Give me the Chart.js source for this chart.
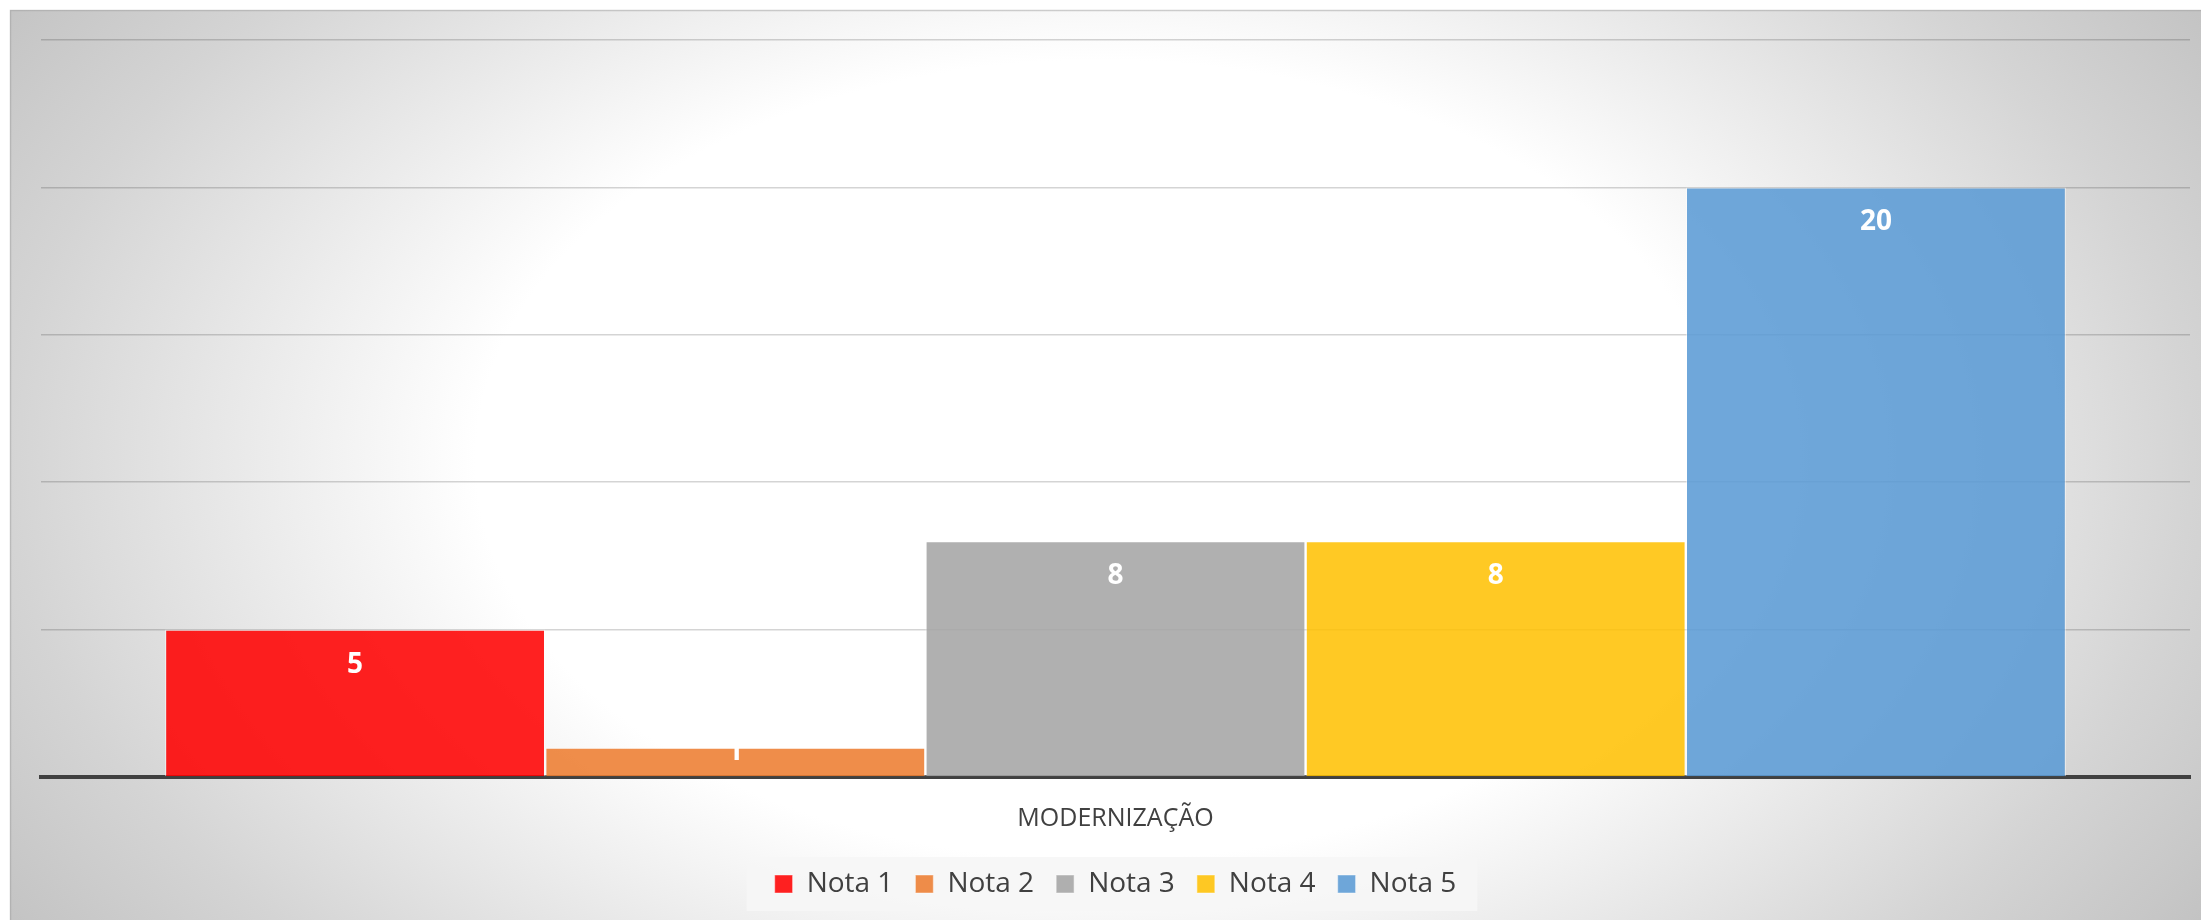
<!DOCTYPE html>
<html>
<head>
<meta charset="utf-8">
<script src="https://cdn.jsdelivr.net/npm/chart.js@4/dist/chart.umd.min.js"></script>
<style>
  html, body { margin: 0; padding: 0; background: #ffffff; }
  #wrap { position: relative; width: 2201px; height: 920px; }
</style>
</head>
<body>
<div id="wrap"><canvas id="c" width="2201" height="920"></canvas></div>
<script>
// ---- data ----
const categories = ['MODERNIZAÇÃO'];
const seriesNames = ['Nota 1', 'Nota 2', 'Nota 3', 'Nota 4', 'Nota 5'];
const nota1 = [5];
const nota2 = [1];
const nota3 = [8];
const nota4 = [8];
const nota5 = [20];
const yTicks = [0, 5, 10, 15, 20, 25];

const seriesValues = [nota1, nota2, nota3, nota4, nota5];
const seriesColors = [
  'rgba(255,0,0,0.87)',
  'rgba(237,125,49,0.88)',
  'rgba(165,165,165,0.88)',
  'rgba(255,192,0,0.86)',
  'rgba(91,155,213,0.88)'
];

const FONT = '"Open Sans", "DejaVu Sans", sans-serif';

const bgPlugin = {
  id: 'bg',
  beforeDraw(chart) {
    const ctx = chart.ctx;
    const W = chart.width, H = chart.height;
    ctx.save();
    ctx.fillStyle = '#ffffff';
    ctx.fillRect(0, 0, W, H);
    const x0 = 10, y0 = 10;
    const cx = 1100, cy = 460;
    const rx = 1560, ry = 1000;
    ctx.save();
    ctx.beginPath();
    ctx.rect(x0, y0, W - x0, H - y0);
    ctx.clip();
    ctx.translate(cx, cy);
    ctx.scale(rx / ry, 1);
    const g = ctx.createRadialGradient(0, 0, 0, 0, 0, ry);
    g.addColorStop(0, '#ffffff');
    g.addColorStop(0.4, '#ffffff');
    g.addColorStop(0.7, '#d4d4d4');
    g.addColorStop(0.85, '#c2c2c2');
    g.addColorStop(1, '#bbbbbb');
    ctx.fillStyle = g;
    ctx.fillRect(-cx * ry / rx - 10, -cy - 10, (W + 20) * ry / rx + 20, H + 20);
    ctx.restore();
    // panel edge
    ctx.strokeStyle = 'rgba(160,160,160,0.5)';
    ctx.lineWidth = 1.5;
    ctx.beginPath();
    ctx.moveTo(x0 + 0.5, H);
    ctx.lineTo(x0 + 0.5, y0 + 0.5);
    ctx.lineTo(W, y0 + 0.5);
    ctx.stroke();
    // legend background
    const lg = chart.legend;
    if (lg && lg.legendHitBoxes && lg.legendHitBoxes.length) {
      const hb = lg.legendHitBoxes;
      let minL = Infinity, maxR = -Infinity, cyL = 0;
      hb.forEach(b => { minL = Math.min(minL, b.left); maxR = Math.max(maxR, b.left + b.width); cyL += b.top + b.height / 2; });
      cyL /= hb.length;
      ctx.fillStyle = 'rgba(246,246,246,0.9)';
      ctx.fillRect(minL - 28, cyL - 27, (maxR - minL) + 28 + 21, 54);
    }
    ctx.restore();
  }
};

const labelPlugin = {
  id: 'valLabels',
  afterDatasetsDraw(chart) {
    const ctx = chart.ctx;
    ctx.save();
    ctx.fillStyle = '#ffffff';
    ctx.font = 'bold 28px ' + FONT;
    ctx.textAlign = 'center';
    ctx.textBaseline = 'middle';
    chart.data.datasets.forEach((ds, i) => {
      const meta = chart.getDatasetMeta(i);
      meta.data.forEach((el, j) => {
        const y = Math.min(el.y + 35, el.base - 24);
        ctx.fillText(String(ds.data[j]), el.x, y);
      });
    });
    ctx.restore();
  }
};

new Chart(document.getElementById('c'), {
  type: 'bar',
  data: {
    labels: categories,
    datasets: seriesNames.map((name, i) => ({
      label: name,
      data: seriesValues[i],
      backgroundColor: seriesColors[i],
      borderColor: 'rgba(255,255,255,0.45)',
      borderWidth: 1.2,
      categoryPercentage: 0.8846,
      barPercentage: 1.0
    }))
  },
  options: {
    responsive: false,
    animation: false,
    devicePixelRatio: 1,
    layout: { padding: { left: 41, right: 11, top: 40, bottom: 12 } },
    plugins: {
      legend: {
        position: 'bottom',
        labels: {
          boxWidth: 18,
          boxHeight: 18,
          padding: 22,
          color: '#404040',
          font: { family: FONT, size: 28 }
        }
      },
      tooltip: { enabled: false }
    },
    scales: {
      x: {
        grid: { display: false },
        border: { display: true, color: '#404040', width: 4 },
        ticks: { color: '#404040', font: { family: FONT, size: 25 }, padding: 19 },
        afterFit: (s) => { s.height -= 5; }
      },
      y: {
        min: 0,
        max: 25,
        afterBuildTicks: (s) => { s.ticks = yTicks.map(v => ({ value: v })); },
        ticks: { display: false },
        grid: { color: 'rgba(0,0,0,0.17)', lineWidth: 1.5, drawTicks: false },
        border: { display: false }
      }
    }
  },
  plugins: [bgPlugin, labelPlugin]
});
</script>
</body>
</html>
